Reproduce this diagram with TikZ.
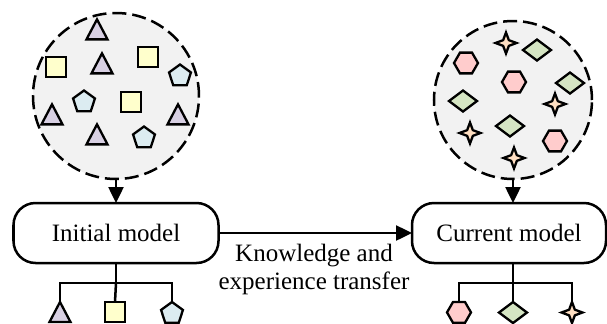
\documentclass[tikz,border=0pt]{standalone}
\usepackage{fontspec}
\setmainfont{Liberation Serif}
\usetikzlibrary{shapes.geometric,arrows.meta}
\definecolor{poolfill}{HTML}{F2F2F2}
\definecolor{tricol}{HTML}{D8D0E3}
\definecolor{sqcol}{HTML}{FFFFCC}
\definecolor{pentcol}{HTML}{DCECF1}
\definecolor{hexcol}{HTML}{FFCCCC}
\definecolor{diacol}{HTML}{D5E5C3}
\definecolor{starcol}{HTML}{FFDFC2}
\begin{document}
\begin{tikzpicture}[x=0.5pt,y=-0.5pt,
  every node/.style={inner sep=0pt, outer sep=0pt},
  pool/.style={circle, draw, fill=poolfill, line width=1.25pt, dash pattern=on 7pt off 3pt},
  model/.style={draw, rounded corners=11pt, line width=1.25pt, minimum width=102.5pt, minimum height=30pt,
    font=\fontsize{12.5}{14}\selectfont},
  item/.style={draw, line width=1.15pt},
  tri/.style={item, isosceles triangle, isosceles triangle stretches, shape border rotate=90,
    minimum width=10.5pt, minimum height=10pt, fill=tricol},
  sq/.style={item, rectangle, minimum size=10pt, fill=sqcol},
  pent/.style={item, regular polygon, regular polygon sides=5, minimum size=11.5pt, fill=pentcol},
  hex/.style={item, regular polygon, regular polygon sides=6, minimum size=12pt, fill=hexcol},
  dia/.style={item, diamond, minimum width=14pt, minimum height=10.5pt, fill=diacol},
  spark/.style={item, star, star points=4, star point ratio=2.6, minimum size=10.5pt, fill=starcol},
  link/.style={line width=1.25pt},
  flow/.style={line width=1.25pt, -{Triangle[width=7.5pt,length=8pt]}}
]
\useasboundingbox (0,0) rectangle (607,323);
\clip (0,0) rectangle (607,323);

% data pools
\node[pool, minimum size=83pt] (poolL) at (116,96) {};
\node[pool, minimum size=79pt] (poolR) at (513,100) {};

% samples seen by the initial model
\node[tri] (a1) at (97,33) {};
\node[sq] (a2) at (56,67) {};
\node[tri] (a3) at (102,67) {};
\node[sq] (a4) at (148,57) {};
\node[pent] (a5) at (180,76) {};
\node[pent] (a6) at (84,102) {};
\node[sq] (a7) at (131,102) {};
\node[tri] (a8) at (52,118) {};
\node[tri] (a9) at (178,118) {};
\node[tri] (a10) at (97,138) {};
\node[pent] (a11) at (144,138) {};

% samples seen by the current model
\node[spark] (b1) at (506,43) {};
\node[dia] (b2) at (537,50) {};
\node[hex] (b3) at (466,63) {};
\node[hex] (b4) at (514,82) {};
\node[dia] (b5) at (570,83) {};
\node[dia] (b6) at (463,101) {};
\node[spark] (b7) at (555,104) {};
\node[dia] (b8) at (510,126) {};
\node[spark] (b9) at (470,133) {};
\node[hex] (b10) at (555,141) {};
\node[spark] (b11) at (514,158) {};

% models
\node[model] (initial) at (116,233) {Initial model};
\node[model, minimum width=97pt] (current) at (509,233) {Current model};

\draw[flow] (poolL.south) -- (initial.north);
\draw[flow] (poolR.south) -- (poolR.south |- current.north);
\draw[flow] (initial.east) -- (current.west);
\node[align=center, anchor=north, font=\fontsize{12.5}{14}\selectfont] (transfer) at (314,244)
  {Knowledge and\\experience transfer};

% output classes
\coordinate (jL) at (116,283);
\coordinate (jR) at (513,283);
\node[tri, anchor=north] (c1) at (60,302) {};
\node[sq, anchor=north] (c2) at (115,302) {};
\node[pent, anchor=north] (c3) at (172,302) {};
\node[hex, anchor=north] (d1) at (459,302) {};
\node[dia, anchor=north] (d2) at (513,302) {};
\node[spark, anchor=north] (d3) at (572,302) {};

\draw[link] (initial.south) -- (jL);
\draw[link] (c1.north) |- (jL) -| (c3.north);
\draw[link] (jL) -- (c2.north);
\draw[link] (current.south -| jR) -- (jR);
\draw[link] (d1.north) |- (jR) -| (d3.north);
\draw[link] (jR) -- (d2.north);
\end{tikzpicture}
\end{document}
